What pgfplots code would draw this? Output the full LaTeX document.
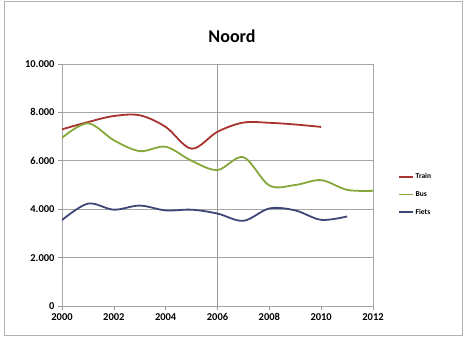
\documentclass[border=0pt]{standalone}
\usepackage{fontspec}
\setmainfont{Carlito}
\usepackage{pgfplots}
\pgfplotsset{compat=1.18}

\definecolor{train}{HTML}{A8332F}
\definecolor{bus}{HTML}{86A83A}
\definecolor{fiets}{HTML}{3E4577}

\begin{document}
\begin{tikzpicture}
\useasboundingbox (-62pt,-31pt) rectangle (402pt,306pt);
\draw[gray!60] (-58pt,-29pt) rectangle (400pt,305pt);
\node[font=\fontsize{18}{20}\selectfont\bfseries] at (170pt,270pt) {Noord};
\begin{axis}[
    at={(0,0)}, anchor=south west,
    scale only axis, width=311pt, height=242pt,
    xmin=2000, xmax=2012, ymin=0, ymax=10000,
    xtick={2000,2002,...,2012},
    ytick={0,2000,...,10000},
    scaled y ticks=false,
    extra x ticks={2006},
    extra x tick labels={},
    extra x tick style={grid=major, major grid style={gray!80, line width=0.6pt}},
    ymajorgrids,
    major grid style={gray!70, line width=0.6pt},
    axis line style={gray!70, line width=0.6pt},
    tick align=outside,
    major tick length=4pt,
    tick style={gray!80, line width=0.6pt},
    xtick pos=bottom, ytick pos=left,
    tick label style={font=\fontsize{10.5}{12}\selectfont\bfseries,
        /pgf/number format/assume math mode=true},
    x tick label style={/pgf/number format/1000 sep={}},
    y tick label style={/pgf/number format/1000 sep={.}},
    legend style={draw=none, fill=none, at={(1.08,0.46)}, anchor=west,
        font=\fontsize{7.5}{8}\selectfont\bfseries, row sep=7pt,
        inner sep=0pt},
    legend cell align=left,
    legend image code/.code={\draw[#1, line width=1.6pt] plot coordinates {(0pt,0pt) (14pt,0pt)};},
    every axis plot/.append style={line width=1.8pt, mark=none},
]
\addplot[train, smooth, tension=0.55] coordinates {
 (2000,7300) (2001,7600) (2002,7850) (2003,7880) (2004,7400) (2005,6500)
 (2006,7200) (2007,7580) (2008,7570) (2009,7500) (2010,7400)};
\addplot[bus, smooth, tension=0.55] coordinates {
 (2000,6950) (2001,7550) (2002,6850) (2003,6400) (2004,6580) (2005,6000)
 (2006,5620) (2007,6150) (2008,4980) (2009,5000) (2010,5200) (2011,4800) (2012,4760)};
\addplot[fiets, smooth, tension=0.55] coordinates {
 (2000,3550) (2001,4230) (2002,3980) (2003,4150) (2004,3950) (2005,3980)
 (2006,3820) (2007,3520) (2008,4030) (2009,3950) (2010,3560) (2011,3700)};
\legend{Train, Bus, Fiets}
\end{axis}
\end{tikzpicture}
\end{document}
